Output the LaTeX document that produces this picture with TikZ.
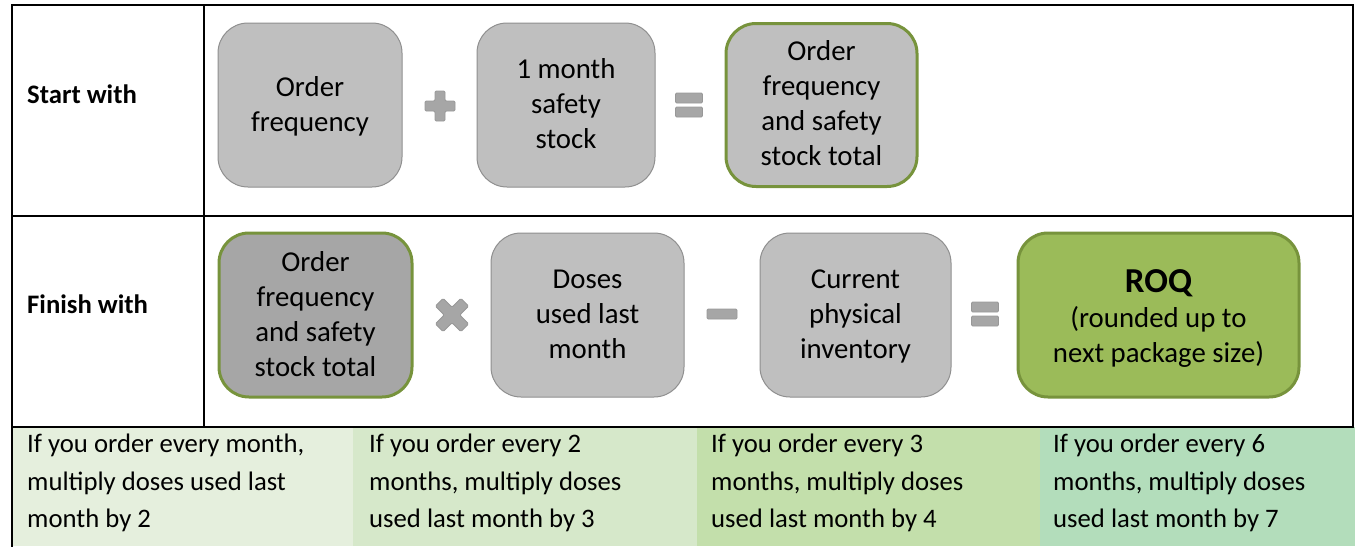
\documentclass[tikz,border=0pt]{standalone}
\usepackage{fontspec}
\setmainfont{Carlito}
\definecolor{boxgray}{HTML}{BFBFBF}
\definecolor{boxdark}{HTML}{A6A6A6}
\definecolor{boxline}{HTML}{8F8F8F}
\definecolor{greenline}{HTML}{77933C}
\definecolor{roqgreen}{HTML}{9BBB59}
\definecolor{opfill}{HTML}{A6A6A6}
\definecolor{opline}{HTML}{989898}
\definecolor{cellA}{HTML}{E5EFDD}
\definecolor{cellB}{HTML}{D6E8CA}
\definecolor{cellC}{HTML}{C3DFAB}
\definecolor{cellD}{HTML}{B3DDBB}
\newcommand\bxfont{\fontsize{28.8}{35}\selectfont}
\newcommand\lblfont{\fontsize{26.7}{32}\selectfont\bfseries}
\newcommand\bandfont{\fontsize{26.7}{37.5}\selectfont}
\newcommand\roqfont{\fontsize{35}{40}\selectfont\bfseries}
\begin{document}
\begin{tikzpicture}[x=1pt,y=-1pt,
  box/.style={draw=boxline, line width=1pt, fill=boxgray, rounded corners=30pt,
    align=center, inner sep=0pt, font=\bxfont},
  totalbox/.style={box, draw=greenline, line width=3pt},
  op/.style={fill=opfill, draw=opline, line width=0.8pt, rounded corners=1.2pt},
  tbl/.style={line width=2pt, line cap=rect},
  lbl/.style={anchor=west, inner sep=0pt, font=\lblfont},
  bandtext/.style={anchor=north west, inner sep=0pt, align=left, font=\bandfont}]
\useasboundingbox (0,0) rectangle (1359,546);
% bottom band
\fill[cellA] (12,427) rectangle (353,546);
\fill[cellB] (353,427) rectangle (697,546);
\fill[cellC] (697,427) rectangle (1040,546);
\fill[cellD] (1040,427) rectangle (1355,546);
% table lines
\draw[tbl] (12,5) rectangle (1353,427);
\draw[tbl] (12,216) -- (1353,216);
\draw[tbl] (204,5) -- (204,427);
\draw[tbl] (12,427) -- (12,546);
% labels
\node[lbl] (start) at (27,94) {Start with};
\node[lbl] (finish) at (27,304) {Finish with};
% row 1
\node[box, minimum width=184pt, minimum height=164pt] (freq) at (310,105)
  {\rule{0pt}{27.5pt}Order\\\strut frequency};
\node[box, minimum width=178pt, minimum height=164pt] (safety) at (566,105)
  {\rule{0pt}{26.5pt}1 month\\\strut safety\\\strut stock};
\node[totalbox, minimum width=191pt, minimum height=163pt] (total) at (821.5,105)
  {\rule{0pt}{26.5pt}Order\\\strut frequency\\\strut and safety\\\strut stock total};
% plus
\draw[op] (435,91) -- ++(10,0) -- ++(0,10) -- ++(10,0) -- ++(0,10) -- ++(-10,0)
  -- ++(0,10) -- ++(-10,0) -- ++(0,-10) -- ++(-10,0) -- ++(0,-10) -- ++(10,0) -- cycle;
% equals 1
\draw[op] (675.5,93) rectangle (702.5,103);
\draw[op] (675.5,107) rectangle (702.5,117);
% row 2
\node[totalbox, fill=boxdark, minimum width=193pt, minimum height=164pt] (total2) at (315.5,315)
  {\rule{0pt}{27.5pt}Order\\\strut frequency\\\strut and safety\\\strut stock total};
\node[box, minimum width=193pt, minimum height=164pt] (doses) at (587.5,315)
  {\rule{0pt}{27.5pt}Doses\\\strut used last\\\strut month};
\node[box, minimum width=191pt, minimum height=164pt] (inventory) at (855.5,315)
  {\rule{0pt}{27.5pt}Current\\\strut physical\\\strut inventory};
\node[totalbox, fill=roqgreen, minimum width=281pt, minimum height=164pt] (roq) at (1158.5,315)
  {{\roqfont\rule{0pt}{36pt}ROQ}\\\strut (rounded up to\\\strut next package size)};
% times
\begin{scope}[shift={(452,315)}, rotate=45]
\draw[op] (-5.5,-18) -- ++(11,0) -- ++(0,12.5) -- ++(12.5,0) -- ++(0,11) -- ++(-12.5,0)
  -- ++(0,12.5) -- ++(-11,0) -- ++(0,-12.5) -- ++(-12.5,0) -- ++(0,-11) -- ++(12.5,0) -- cycle;
\end{scope}
% minus
\draw[op] (707,309) rectangle (737,319);
% equals 2
\draw[op] (971.5,302) rectangle (998.5,312);
\draw[op] (971.5,316) rectangle (998.5,326);
% bottom texts
\node[bandtext] (noteA) at (27,426.5)
  {\strut If you order every month,\\\strut multiply doses used last\\\strut month by 2};
\node[bandtext] (noteB) at (369,426.5)
  {\strut If you order every 2\\\strut months, multiply doses\\\strut used last month by 3};
\node[bandtext] (noteC) at (711,426.5)
  {\strut If you order every 3\\\strut months, multiply doses\\\strut used last month by 4};
\node[bandtext] (noteD) at (1053,426.5)
  {\strut If you order every 6\\\strut months, multiply doses\\\strut used last month by 7};
\end{tikzpicture}
\end{document}
